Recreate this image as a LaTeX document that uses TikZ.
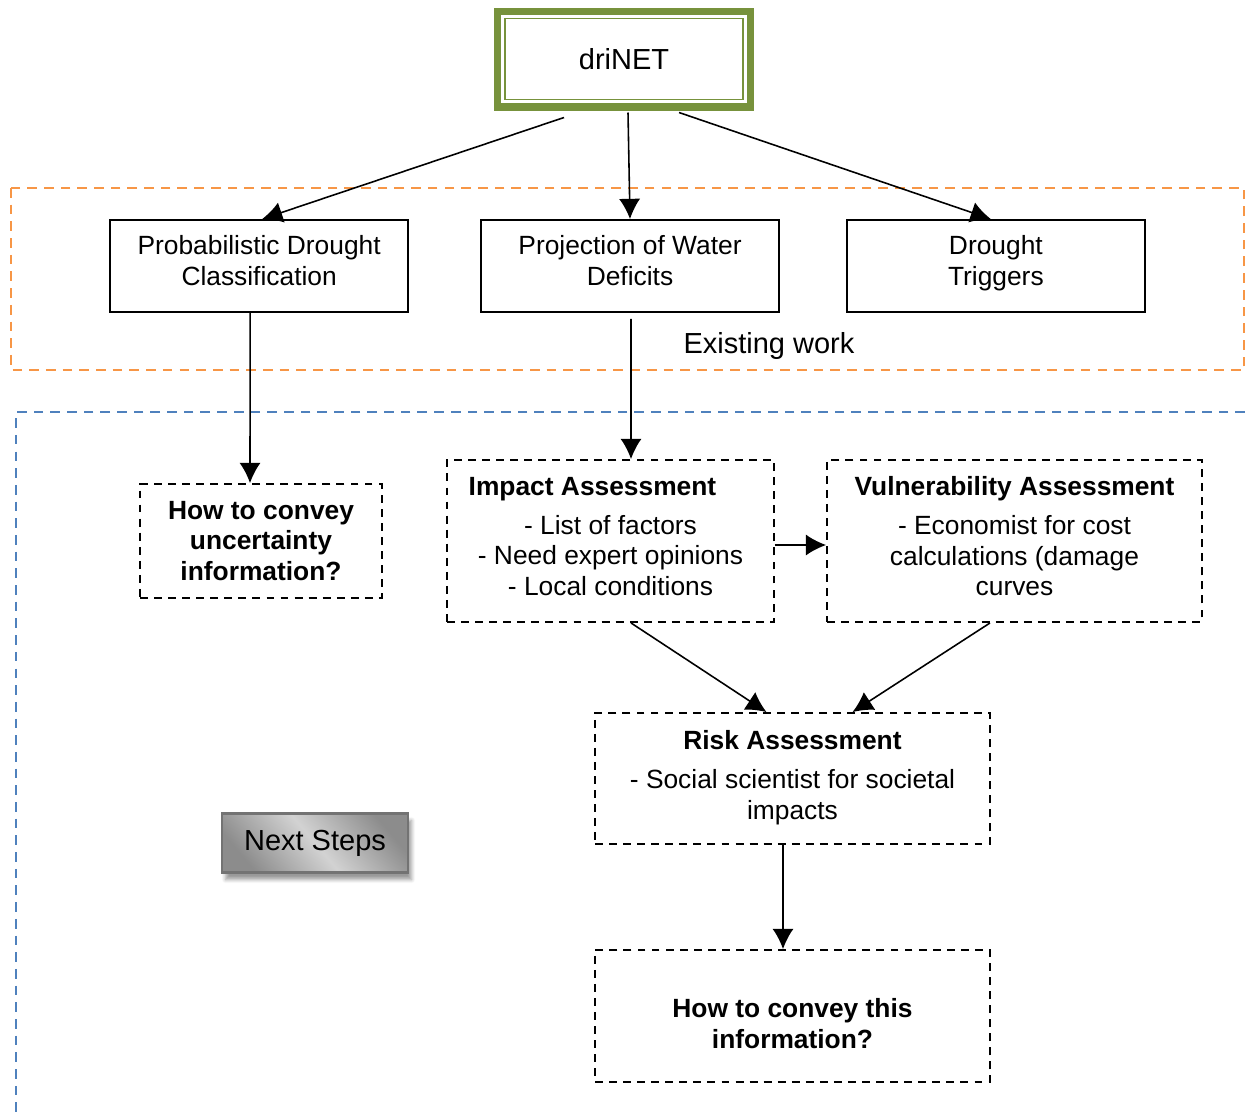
\documentclass[tikz,border=0pt]{standalone}
\usepackage{fontspec}
\setmainfont{Liberation Sans}
\usetikzlibrary{arrows.meta,positioning,calc,shadings,shadows.blur}
\definecolor{drigreen}{RGB}{119,146,60}
\definecolor{exorange}{RGB}{247,150,70}
\definecolor{nextblue}{RGB}{79,129,189}
\newcommand{\lowstrut}[1]{\rule[-#1]{0pt}{#1}}
\tikzset{
topblock/.style = {draw=drigreen, line width=4pt, rectangle, minimum width=5.06cm, minimum height=1.92cm, font=\fontsize{16.5}{19}\selectfont},
block/.style = {draw, fill=white, rectangle, line width=1.1pt, align=center, minimum width=5.96cm, minimum height=1.84cm},
dblock/.style = {draw, rectangle, dash pattern=on 4.5pt off 3.5pt, line width=1.1pt, align=center},
frame/.style = {dash pattern=on 5.5pt off 4pt, line width=1.2pt},
button/.style = {draw=gray!110, line width=1.4pt, rectangle, minimum width=3.72cm, minimum height=1.18cm,
  shading=axis, top color=gray!90, bottom color=gray!90, middle color=gray!35, shading angle=-50,
  blur shadow={shadow xshift=2pt, shadow yshift=-4pt, shadow blur steps=6, shadow opacity=40},
  font=\fontsize{16.5}{19}\selectfont},
line/.style = {draw, line width=0.9pt, -{Latex[length=11.5pt,width=12pt]}}
}

\begin{document}
\begin{tikzpicture}[x=0.02cm, y=-0.02cm, font=\fontsize{15}{17.3}\selectfont]
  \useasboundingbox (0,0) rectangle (1245,1117);

  % frames
  \draw [frame, exorange] (11,188) rectangle (1244,370);
  \draw [frame, nextblue] (1245,412) -| (16,1117);

  % driNET
  \node [topblock]                                      (dri)       at (624,59) {driNET};
  \draw [drigreen, line width=1.1pt] ($(dri.north west)+(11,11)$) rectangle ($(dri.south east)+(-11,-11)$);

  % existing work
  \node [block]                                         (proj)      at (630,266) {Projection of Water\\Deficits\lowstrut{6.2pt}};
  \node [block, left=1.42cm of proj]                    (prob)      {Probabilistic Drought\\Classification\lowstrut{6.2pt}};
  \node [block, right=1.32cm of proj]                   (trig)      {Drought\\Triggers\lowstrut{6.2pt}};
  \node                                                 (exist)     at (769,346) {\fontsize{16.5}{19}\selectfont Existing work};

  % next steps
  \node [dblock, font=\fontsize{15}{17.3}\selectfont\bfseries, minimum width=4.84cm, minimum height=2.28cm]
                                                        (unc)       at (261,541) {How to convey\\uncertainty\\information?};
  \node [dblock, minimum width=6.54cm, minimum height=3.24cm]
                                                        (impact)    at (610.5,541) {\textbf{Impact Assessment}\hspace*{0.72cm}\\[5pt]- List of factors\\- Need expert opinions\\- Local conditions\lowstrut{5.6pt}};
  \node [dblock, minimum width=7.5cm, minimum height=3.24cm]
                                                        (vuln)      at (1014.5,541) {\textbf{Vulnerability Assessment}\\[5pt]- Economist for cost\\calculations (damage\\curves\lowstrut{5.6pt}};
  \node [dblock, minimum width=7.9cm, minimum height=2.62cm]
                                                        (risk)      at (792.5,778.5) {\textbf{Risk Assessment}\\[5pt]- Social scientist for societal\\impacts\lowstrut{4pt}};
  \node [dblock, font=\fontsize{15}{17.3}\selectfont\bfseries, minimum width=7.9cm, minimum height=2.64cm]
                                                        (conv)      at (792.5,1016) {\\[2pt]How to convey this\\information?};
  \node [button]                                        (next)      at (315,843) {\raisebox{-1.5pt}{Next Steps}};

  \draw [line] ($(dri.south)+(-60,7)$) -- ($(prob.north)+(3,0)$);
  \draw [line] ($(dri.south)+(4,2)$) -- (proj.north);
  \draw [line] ($(dri.south)+(55,2)$) -- ($(trig.north)+(-5,0)$);
  \draw [line] ($(prob.south)+(-9,0)$) -- ($(unc.north)+(-11,0)$);
  \draw [line] ($(proj.south)+(1,6)$) -- ($(impact.north)+(20.5,0)$);
  \draw [line] ($(impact.east)+(0,4)$) -- ($(vuln.west)+(0,4)$);
  \draw [line] ($(impact.south)+(20.5,0)$) -- ($(risk.north)+(-26,0)$);
  \draw [line] ($(vuln.south)+(-24.5,0)$) -- ($(risk.north)+(60,0)$);
  \draw [line] ($(risk.south)+(-9.5,0)$) -- ($(conv.north)+(-9.5,0)$);
\end{tikzpicture}
\end{document}
